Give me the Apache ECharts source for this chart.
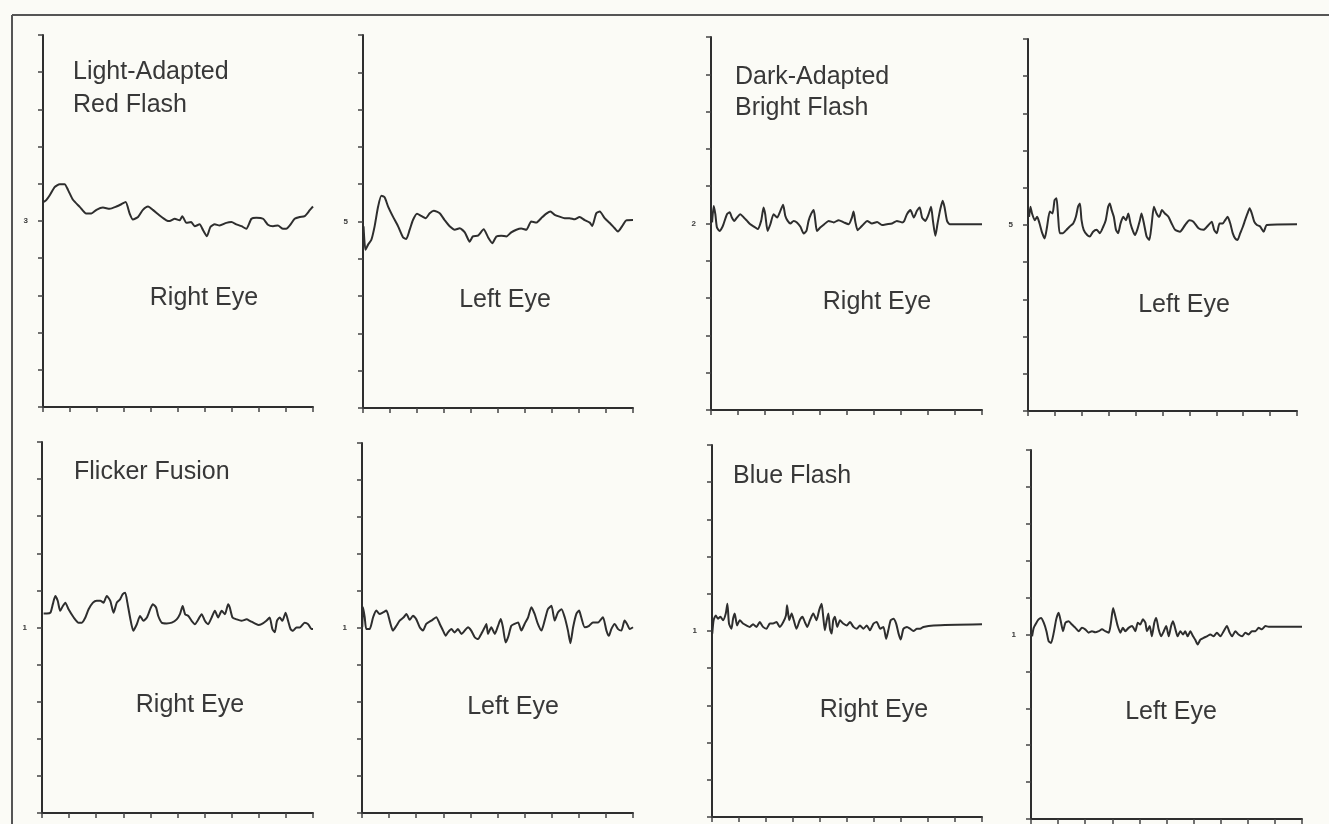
<!DOCTYPE html>
<html>
<head>
<meta charset="utf-8">
<script src="https://cdn.jsdelivr.net/npm/echarts@6/dist/echarts.min.js"></script>
<style>
html,body{margin:0;padding:0;background:#fbfbf6;}
#chart{width:1329px;height:824px;}
</style>
</head>
<body>
<div id="chart"></div>
<script>
// ---- data (axis units: x 0..10 divisions, y 0..10 divisions, baseline at 5) ----
const xTicks = [0,1,2,3,4,5,6,7,8,9,10];
const yTicks = [0,1,2,3,4,5,6,7,8,9,10];
const baselineLabels = ['3','5','2','5','1','1','1','1'];
const panelTitles = [['Light-Adapted','Red Flash'],[],['Dark-Adapted','Bright Flash'],[],['Flicker Fusion'],[],['Blue Flash'],[]];
const eyeLabels = ['Right Eye','Left Eye','Right Eye','Left Eye','Right Eye','Left Eye','Right Eye','Left Eye'];

const redFlashRight = [[0.03,5.51],[0.12,5.56],[0.25,5.69],[0.43,5.91],[0.62,5.99],[0.80,5.99],[0.93,5.83],[1.11,5.57],[1.36,5.38],[1.60,5.20],[1.79,5.20],[1.98,5.30],[2.22,5.36],[2.47,5.33],[2.72,5.39],[2.90,5.45],[3.06,5.51],[3.21,5.20],[3.33,5.04],[3.52,5.11],[3.70,5.30],[3.89,5.39],[4.07,5.30],[4.32,5.15],[4.57,5.02],[4.69,5.00],[4.88,5.06],[5.06,5.02],[5.16,5.13],[5.31,4.95],[5.49,4.97],[5.62,4.86],[5.80,4.91],[5.93,4.75],[6.07,4.59],[6.20,4.84],[6.36,4.91],[6.54,4.88],[6.79,4.95],[6.98,4.97],[7.16,4.91],[7.35,4.86],[7.53,4.79],[7.72,5.06],[7.90,5.09],[8.15,5.06],[8.33,4.90],[8.52,4.86],[8.70,4.88],[8.89,4.79],[9.01,4.79],[9.14,4.88],[9.32,5.06],[9.51,5.11],[9.69,5.13],[9.88,5.29],[10.0,5.39]];

const redFlashLeft = [[0.02,4.87],[0.09,4.24],[0.19,4.38],[0.31,4.51],[0.43,4.87],[0.56,5.40],[0.68,5.69],[0.80,5.65],[0.93,5.40],[1.11,5.13],[1.30,4.87],[1.48,4.58],[1.60,4.53],[1.73,4.78],[1.85,5.04],[2.00,5.21],[2.16,5.15],[2.32,5.09],[2.47,5.22],[2.62,5.29],[2.84,5.22],[3.02,5.04],[3.21,4.87],[3.40,4.78],[3.58,4.82],[3.77,4.71],[3.95,4.46],[4.07,4.60],[4.26,4.62],[4.47,4.79],[4.63,4.58],[4.79,4.42],[4.94,4.60],[5.12,4.62],[5.31,4.60],[5.49,4.71],[5.68,4.78],[5.86,4.81],[6.05,4.78],[6.23,5.00],[6.42,4.97],[6.60,5.09],[6.79,5.21],[6.94,5.27],[7.10,5.18],[7.28,5.13],[7.47,5.09],[7.65,5.09],[7.84,5.06],[8.02,5.12],[8.21,5.04],[8.40,4.97],[8.49,4.88],[8.64,5.22],[8.77,5.27],[8.95,5.09],[9.14,4.96],[9.32,4.82],[9.44,4.73],[9.63,4.91],[9.75,5.03],[10.0,5.04]];

const brightFlashRight = [[0.04,5.03],[0.10,5.47],[0.16,5.25],[0.22,4.89],[0.32,4.80],[0.41,4.89],[0.47,5.00],[0.59,5.25],[0.69,5.30],[0.77,5.16],[0.86,5.07],[0.96,5.16],[1.08,5.25],[1.21,5.16],[1.33,5.07],[1.45,4.98],[1.60,4.91],[1.72,4.85],[1.85,5.07],[1.94,5.43],[2.00,5.25],[2.09,4.80],[2.19,4.98],[2.31,5.25],[2.44,5.16],[2.56,5.34],[2.66,5.50],[2.74,5.21],[2.83,5.07],[2.93,5.00],[3.05,5.07],[3.17,5.03],[3.30,4.91],[3.42,4.73],[3.52,4.80],[3.60,5.07],[3.69,5.25],[3.79,5.36],[3.85,5.07],[3.91,4.80],[4.03,4.89],[4.18,4.98],[4.34,5.07],[4.53,5.03],[4.71,5.09],[4.90,5.03],[5.08,4.98],[5.20,5.16],[5.26,5.32],[5.33,5.03],[5.41,4.82],[5.51,4.89],[5.63,4.98],[5.76,5.07],[5.94,5.00],[6.13,5.04],[6.31,4.96],[6.49,4.98],[6.68,5.00],[6.86,5.07],[7.05,5.03],[7.13,5.07],[7.23,5.25],[7.36,5.36],[7.48,5.16],[7.60,5.34],[7.70,5.43],[7.79,5.16],[7.91,5.07],[8.03,5.25],[8.12,5.45],[8.19,5.07],[8.28,4.67],[8.36,5.00],[8.46,5.38],[8.55,5.61],[8.62,5.43],[8.71,5.07],[8.81,4.98],[10.0,4.98]];

const brightFlashLeft = [[0.04,5.22],[0.09,5.49],[0.15,5.31],[0.25,5.13],[0.34,5.22],[0.43,5.04],[0.53,4.78],[0.62,4.64],[0.71,4.96],[0.81,5.36],[0.91,5.31],[0.99,5.67],[1.06,5.72],[1.12,5.22],[1.18,4.78],[1.30,4.78],[1.43,4.87],[1.55,4.96],[1.68,5.04],[1.78,5.22],[1.86,5.49],[1.93,5.58],[1.99,5.13],[2.07,4.87],[2.20,4.73],[2.30,4.69],[2.42,4.82],[2.55,4.87],[2.67,4.78],[2.80,4.96],[2.89,5.13],[2.98,5.49],[3.04,5.58],[3.11,5.40],[3.19,5.22],[3.27,4.87],[3.35,4.78],[3.44,5.04],[3.54,5.22],[3.64,5.13],[3.73,5.31],[3.81,5.04],[3.91,4.82],[3.98,4.73],[4.06,4.87],[4.16,5.13],[4.22,5.31],[4.31,5.04],[4.41,4.69],[4.51,4.60],[4.60,5.04],[4.68,5.49],[4.78,5.31],[4.88,5.22],[4.98,5.40],[5.09,5.31],[5.22,5.22],[5.34,5.04],[5.47,4.87],[5.65,4.82],[5.84,5.00],[6.00,5.13],[6.15,5.09],[6.34,4.91],[6.52,4.87],[6.71,5.00],[6.83,5.09],[6.92,4.87],[7.02,4.78],[7.12,5.04],[7.24,5.04],[7.33,5.13],[7.42,5.22],[7.52,5.04],[7.61,4.78],[7.70,4.64],[7.79,4.60],[7.89,4.78],[7.99,4.96],[8.07,5.13],[8.16,5.31],[8.24,5.45],[8.32,5.31],[8.41,5.09],[8.51,5.00],[8.63,4.96],[8.76,4.82],[8.88,5.00],[10.0,5.02]];

const flickerRight = [[0.06,5.38],[0.18,5.38],[0.31,5.40],[0.40,5.63],[0.49,5.85],[0.58,5.72],[0.67,5.45],[0.77,5.58],[0.86,5.67],[0.98,5.49],[1.17,5.27],[1.35,5.13],[1.47,5.13],[1.60,5.27],[1.72,5.49],[1.88,5.67],[2.02,5.72],[2.15,5.72],[2.27,5.67],[2.39,5.85],[2.52,5.72],[2.64,5.40],[2.76,5.67],[2.88,5.76],[2.98,5.90],[3.07,5.94],[3.15,5.67],[3.25,5.27],[3.37,4.91],[3.50,5.09],[3.62,5.31],[3.74,5.18],[3.87,5.27],[3.99,5.49],[4.09,5.63],[4.21,5.54],[4.29,5.31],[4.42,5.13],[4.60,5.11],[4.79,5.13],[4.97,5.22],[5.09,5.36],[5.19,5.58],[5.28,5.36],[5.40,5.31],[5.52,5.18],[5.64,5.09],[5.77,5.22],[5.89,5.36],[6.01,5.18],[6.13,5.09],[6.26,5.27],[6.38,5.45],[6.50,5.27],[6.63,5.45],[6.75,5.36],[6.87,5.63],[6.93,5.54],[7.03,5.27],[7.18,5.22],[7.36,5.18],[7.55,5.22],[7.67,5.18],[7.85,5.11],[7.98,5.07],[8.10,5.09],[8.28,5.18],[8.40,5.27],[8.50,4.96],[8.59,4.87],[8.67,5.18],[8.77,5.27],[8.87,5.18],[8.99,5.40],[9.08,5.18],[9.17,4.96],[9.26,4.91],[9.39,5.00],[9.51,5.00],[9.69,5.13],[9.82,5.09],[9.94,4.96],[10.0,4.96]];

const flickerLeft = [[0.01,5.02],[0.04,5.56],[0.10,5.29],[0.16,4.97],[0.28,4.97],[0.41,5.29],[0.53,5.47],[0.65,5.38],[0.77,5.42],[0.90,5.47],[1.02,5.20],[1.14,4.93],[1.27,5.06],[1.39,5.20],[1.54,5.29],[1.64,5.38],[1.76,5.22],[1.88,5.33],[2.00,5.24],[2.13,5.02],[2.25,4.93],[2.37,5.11],[2.56,5.20],[2.74,5.29],[2.87,5.11],[2.99,4.93],[3.09,4.79],[3.17,4.88],[3.30,4.97],[3.42,4.88],[3.54,4.97],[3.67,4.84],[3.79,4.93],[3.91,5.02],[4.03,4.93],[4.16,4.75],[4.28,4.70],[4.40,4.84],[4.53,5.02],[4.59,5.11],[4.65,4.84],[4.77,5.02],[4.90,4.84],[5.02,5.06],[5.12,5.24],[5.20,5.02],[5.30,4.61],[5.39,4.75],[5.51,5.06],[5.63,5.11],[5.76,5.15],[5.88,4.93],[6.00,5.11],[6.13,5.29],[6.25,5.56],[6.37,5.38],[6.49,5.11],[6.62,4.93],[6.74,5.20],[6.86,5.51],[6.99,5.60],[7.11,5.20],[7.23,5.42],[7.36,5.51],[7.48,5.29],[7.60,4.93],[7.69,4.59],[7.79,5.02],[7.91,5.38],[8.01,5.47],[8.09,5.29],[8.22,5.02],[8.38,5.06],[8.52,5.15],[8.71,5.15],[8.89,5.29],[9.02,4.93],[9.11,4.79],[9.20,4.97],[9.32,5.11],[9.45,4.97],[9.57,4.93],[9.69,5.20],[9.78,5.11],[9.88,4.97],[10.0,5.02]];

const blueFlashRight = [[0.01,4.93],[0.06,5.29],[0.14,5.42],[0.22,5.33],[0.31,5.38],[0.41,5.29],[0.51,5.47],[0.57,5.73],[0.63,5.20],[0.72,5.06],[0.78,5.33],[0.84,5.47],[0.93,5.15],[1.03,5.29],[1.15,5.20],[1.27,5.15],[1.40,5.11],[1.52,5.18],[1.65,5.11],[1.77,5.24],[1.89,5.11],[2.02,5.06],[2.14,5.20],[2.26,5.20],[2.39,5.24],[2.51,5.11],[2.64,5.24],[2.74,5.42],[2.78,5.69],[2.86,5.29],[2.95,5.47],[3.03,5.29],[3.13,5.06],[3.25,5.29],[3.35,5.38],[3.44,5.24],[3.53,5.11],[3.63,5.29],[3.75,5.47],[3.87,5.29],[3.97,5.56],[4.06,5.73],[4.12,5.38],[4.18,5.02],[4.25,5.29],[4.31,5.47],[4.37,5.06],[4.43,4.93],[4.49,5.29],[4.55,5.38],[4.64,5.11],[4.74,5.29],[4.86,5.20],[4.99,5.15],[5.11,5.24],[5.24,5.11],[5.36,5.06],[5.48,5.15],[5.61,5.06],[5.73,5.15],[5.85,5.02],[5.98,5.20],[6.10,5.24],[6.23,5.06],[6.35,5.11],[6.45,4.79],[6.53,5.02],[6.62,5.29],[6.72,5.33],[6.82,5.20],[6.91,4.93],[6.99,4.77],[7.09,5.06],[7.22,5.11],[7.34,5.06],[7.46,5.00],[7.59,5.06],[7.71,5.06],[7.83,5.11],[8.21,5.15],[10.0,5.18]];

const blueFlashLeft = [[0.04,4.95],[0.10,5.18],[0.20,5.32],[0.28,5.41],[0.37,5.45],[0.47,5.32],[0.57,5.09],[0.65,4.82],[0.74,4.77],[0.84,5.05],[0.93,5.41],[1.02,5.59],[1.11,5.32],[1.18,5.09],[1.27,5.32],[1.39,5.36],[1.51,5.27],[1.64,5.18],[1.76,5.09],[1.88,5.18],[2.00,5.14],[2.13,5.05],[2.25,5.09],[2.37,5.06],[2.50,5.09],[2.62,5.14],[2.74,5.09],[2.87,5.05],[2.95,5.32],[3.03,5.72],[3.11,5.50],[3.20,5.23],[3.30,5.05],[3.39,5.18],[3.48,5.09],[3.60,5.18],[3.73,5.23],[3.85,5.09],[3.94,5.32],[4.03,5.27],[4.13,5.41],[4.22,5.32],[4.28,5.09],[4.38,5.23],[4.46,4.95],[4.55,5.32],[4.62,5.45],[4.71,5.14],[4.80,4.95],[4.90,5.09],[4.99,5.23],[5.08,4.95],[5.17,5.23],[5.24,5.36],[5.33,5.14],[5.41,4.95],[5.51,5.09],[5.61,5.00],[5.69,5.09],[5.78,4.95],[5.88,5.09],[5.98,4.95],[6.06,4.86],[6.15,4.73],[6.25,4.86],[6.37,4.91],[6.49,4.95],[6.62,5.00],[6.74,4.95],[6.86,5.05],[6.99,4.95],[7.11,5.09],[7.23,5.23],[7.33,5.05],[7.42,4.95],[7.54,5.09],[7.66,5.00],[7.79,4.95],[7.91,5.05],[8.03,5.00],[8.15,5.09],[8.28,5.09],[8.40,5.18],[8.52,5.14],[8.65,5.23],[8.77,5.21],[10.0,5.21]];

const traces = [redFlashRight, redFlashLeft, brightFlashRight, brightFlashLeft, flickerRight, flickerLeft, blueFlashRight, blueFlashLeft];

// ---- layout ----
const grids = [
  {left:43,  top:35,  width:270, height:372},
  {left:363, top:35,  width:270, height:373},
  {left:711, top:37,  width:271, height:373},
  {left:1028,top:39,  width:269, height:372},
  {left:42,  top:442, width:271, height:371},
  {left:362, top:443, width:271, height:370},
  {left:712, top:445, width:270, height:372},
  {left:1031,top:450, width:271, height:369}
];
const titlePos = [[73,72,105],null,[735,77,108],null,[74,472],null,[733,476],null];
const eyePos = [[204,298],[505,300],[877,302],[1184,305],[190,705],[513,707],[874,710],[1171,712]];

const ink = '#2e2e2e';
const FONT = '"Liberation Sans", Arial, Helvetica, sans-serif';

const option = {
  backgroundColor: '#fbfbf6',
  animation: false,
  grid: grids.map(g => Object.assign({containLabel:false}, g)),
  xAxis: grids.map((g,i) => ({
    type:'value', gridIndex:i, min:xTicks[0], max:xTicks[xTicks.length-1], interval:1,
    axisLine:{show:true, onZero:false, lineStyle:{color:ink, width:2}},
    axisTick:{show:true, inside:false, length:5, lineStyle:{color:'#444', width:1.5}},
    axisLabel:{show:false}, splitLine:{show:false}
  })),
  yAxis: grids.map((g,i) => ({
    type:'value', gridIndex:i, min:yTicks[0], max:yTicks[yTicks.length-1], interval:1,
    axisLine:{show:true, onZero:false, lineStyle:{color:ink, width:2}},
    axisTick:{show:true, inside:false, length:5, lineStyle:{color:'#444', width:1.5}},
    axisLabel:{show:true, margin:15, fontSize:8, fontWeight:'bold', color:'#3a3a3a', fontFamily:FONT,
      formatter: v => (v === 5 ? baselineLabels[i] : '')},
    splitLine:{show:false}
  })),
  series: traces.map((d,i) => ({
    type:'line', xAxisIndex:i, yAxisIndex:i, data:d, showSymbol:false, symbol:'none',
    smooth:0.2, lineStyle:{color:ink, width:2}, silent:true
  })),
  graphic: []
};

// frame lines
option.graphic.push({type:'line', shape:{x1:12,y1:15,x2:1329,y2:15}, style:{stroke:'#555', lineWidth:2}, silent:true});
option.graphic.push({type:'line', shape:{x1:12,y1:15,x2:12,y2:824}, style:{stroke:'#555', lineWidth:2}, silent:true});

panelTitles.forEach((lines,i) => {
  if (!lines.length) return;
  const p = titlePos[i];
  lines.forEach((t,k) => {
    option.graphic.push({type:'text', x:p[0], y:p[1+k], silent:true,
      style:{text:t, fontSize:25, fontFamily:FONT, fill:'#383838', align:'left', verticalAlign:'middle'}});
  });
});
eyeLabels.forEach((t,i) => {
  option.graphic.push({type:'text', x:eyePos[i][0], y:eyePos[i][1], silent:true,
    style:{text:t, fontSize:25, fontFamily:FONT, fill:'#383838', align:'center', verticalAlign:'middle'}});
});

const chart = echarts.init(document.getElementById('chart'), null, {renderer:'canvas'});
chart.setOption(option);
</script>
</body>
</html>
